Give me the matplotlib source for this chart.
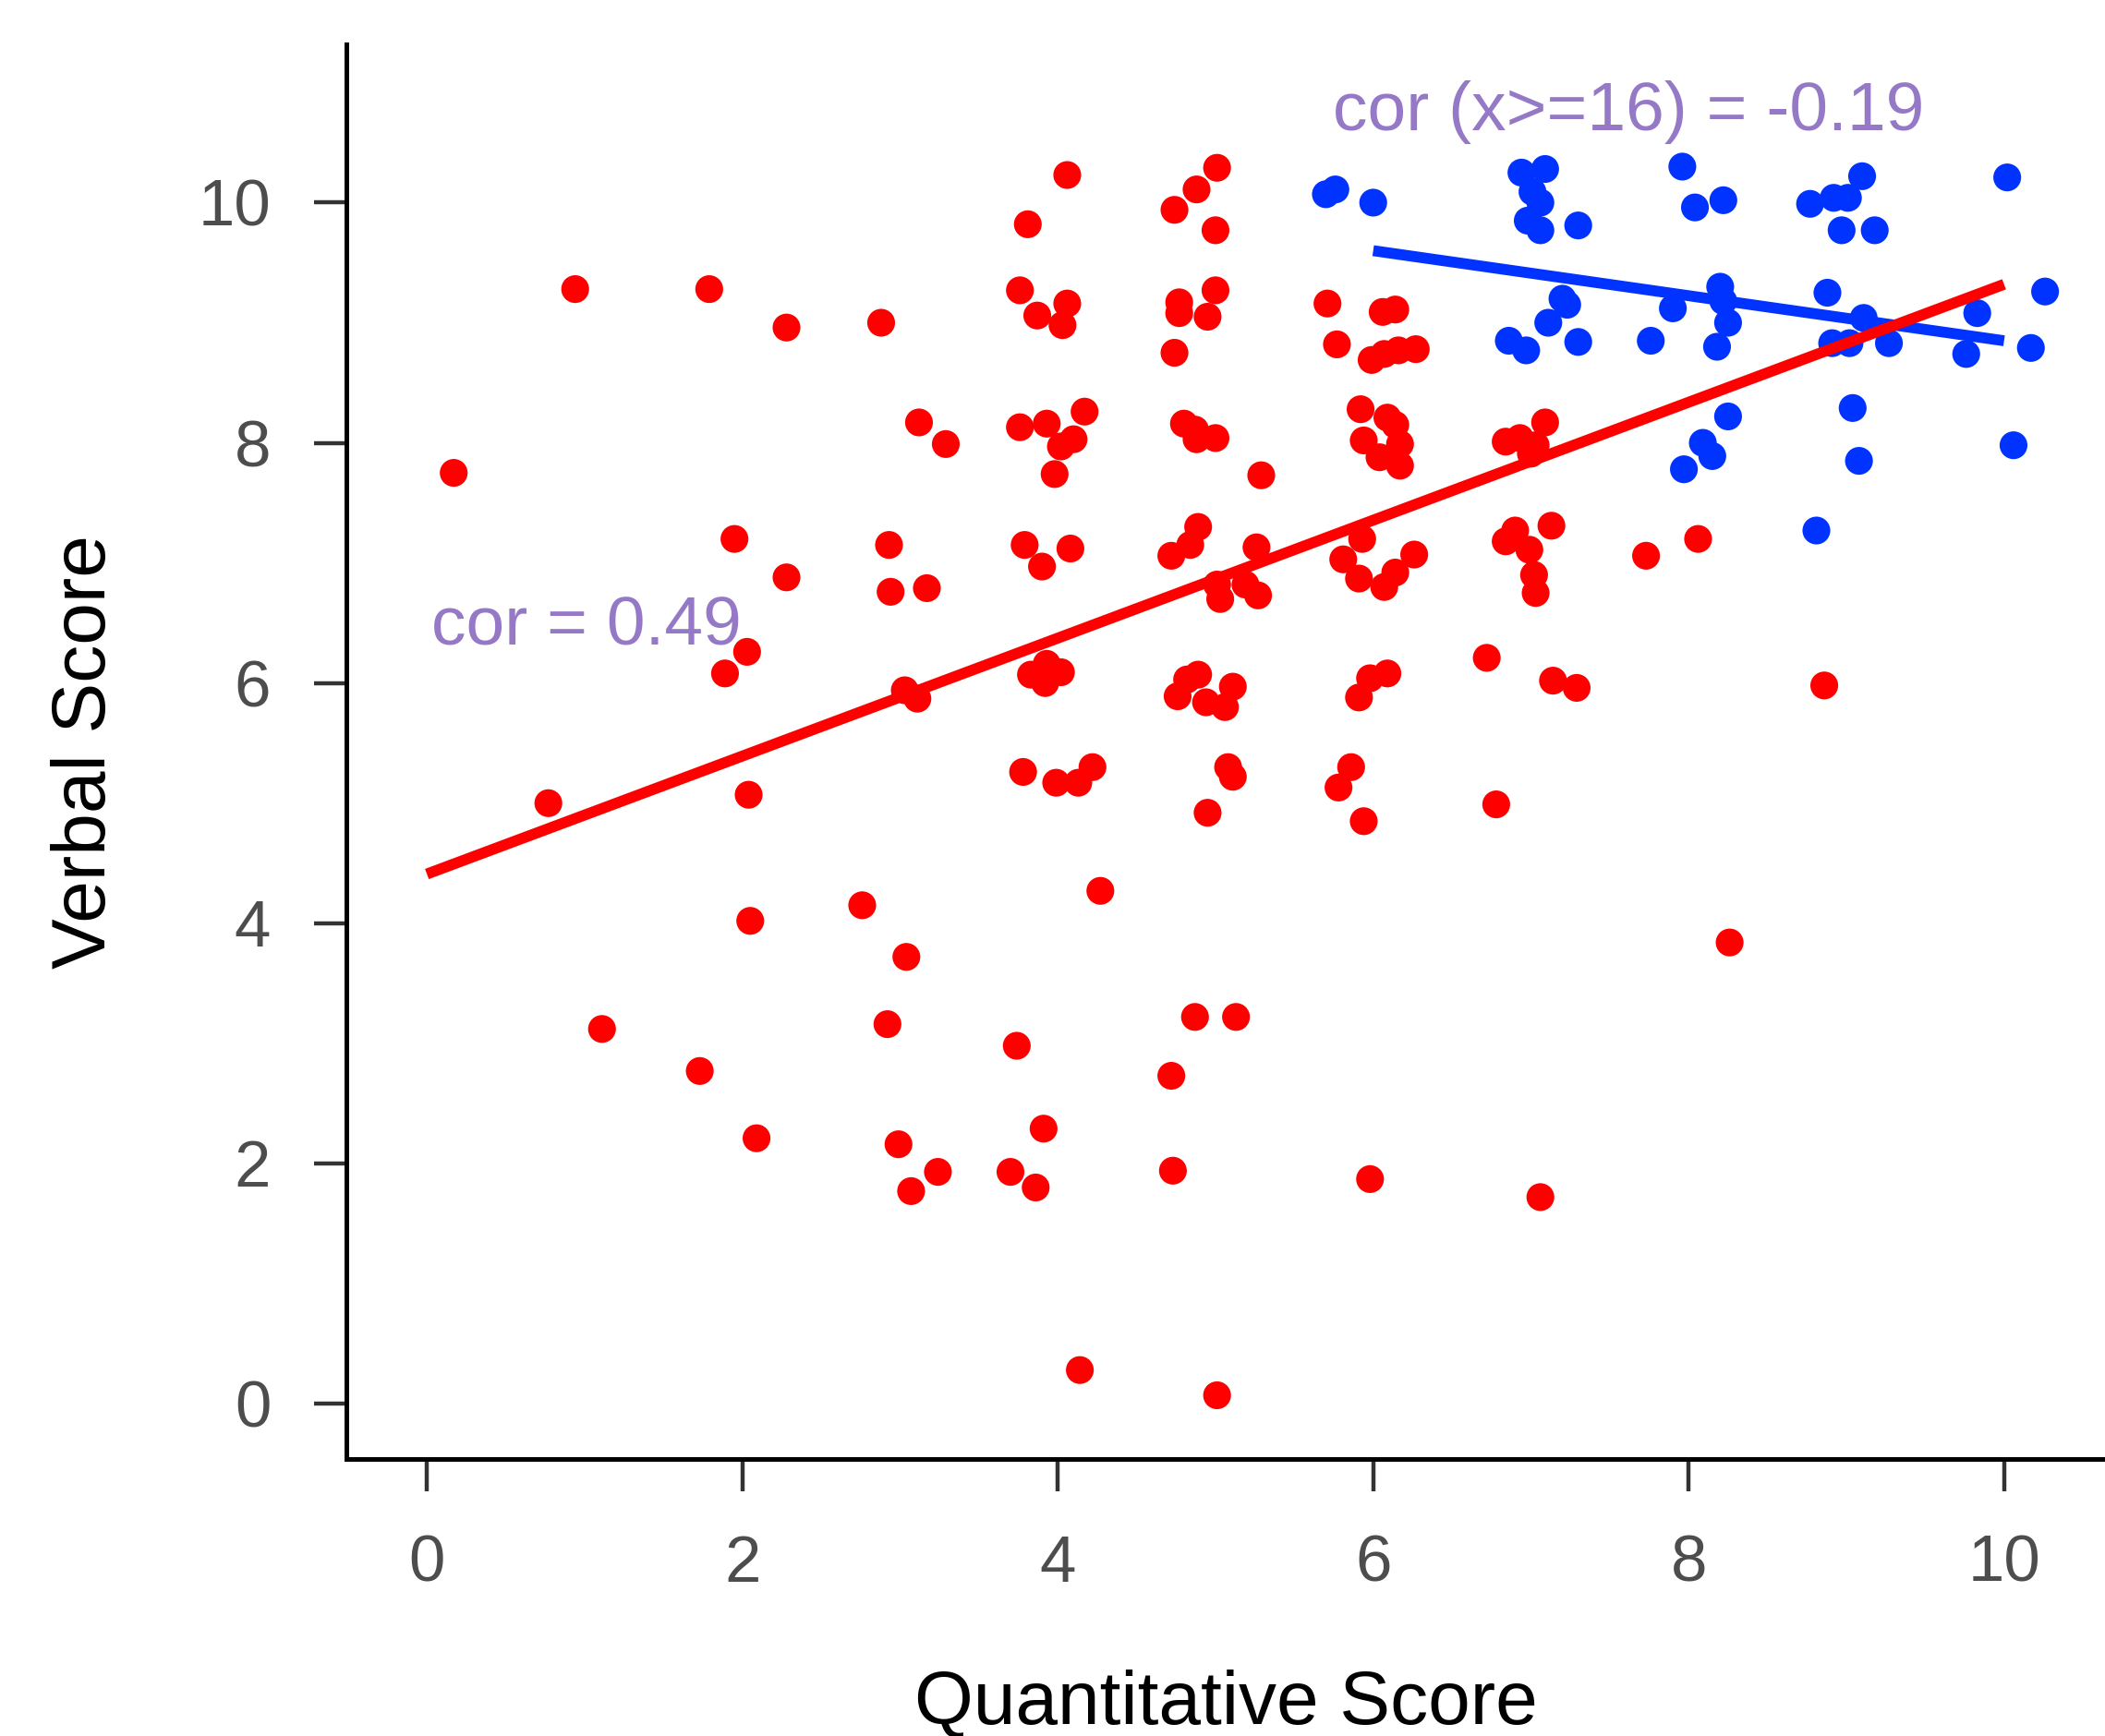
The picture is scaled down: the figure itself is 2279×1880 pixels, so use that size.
import numpy as np
import matplotlib.pyplot as plt

plt.rcParams['font.family'] = ['Liberation Sans', 'DejaVu Sans']

# red group (all students below the blue corner)
red_x = [0.17, 0.94, 0.77, 1.11, 1.73, 1.79, 1.95, 2.28, 2.28, 1.89, 2.03, 2.04, 2.05, 2.09,
         2.76, 2.88, 2.93, 2.94, 3.17, 3.12, 3.29, 3.03, 3.11, 3.04, 2.92, 2.99, 3.07, 3.24,
         3.81, 4.06, 3.76, 3.87, 4.03, 4.06, 3.76, 3.93, 4.17, 4.10, 4.02, 3.98, 3.79, 3.90,
         4.08, 3.83, 3.93, 3.92, 4.02, 3.78, 3.99, 4.13, 4.22, 4.27, 3.74, 3.91, 3.70, 3.86, 4.14,
         4.74, 4.88, 5.01, 5.00, 4.77, 4.77, 5.00, 4.95, 4.74, 4.80, 4.87, 4.88, 5.00, 5.29,
         4.72, 4.84, 4.89, 5.26, 5.01, 5.03, 5.19, 5.27, 4.76, 4.82, 4.89, 4.94, 5.06, 5.11,
         5.08, 5.11, 4.95, 4.87, 5.13, 4.72, 4.73, 5.01,
         5.71, 5.77, 6.06, 6.14, 5.99, 6.07, 6.16, 6.27, 5.92, 5.94, 6.09, 6.14, 6.17, 6.04,
         6.17, 5.81, 5.93, 5.91, 6.07, 6.14, 6.26, 5.91, 5.98, 6.09, 5.86, 5.78, 5.94, 5.98,
         6.84, 6.93, 7.03, 7.00, 7.09, 6.84, 6.90, 6.99, 7.13, 7.02, 7.03, 6.72, 7.14, 7.29,
         6.78, 7.06, 7.73, 8.06, 8.26, 8.86]
red_y = [7.75, 9.28, 5.00, 3.12, 2.77, 9.28, 7.20, 8.96, 6.88, 6.08, 6.26, 5.07, 4.02, 2.21,
         4.15, 9.00, 7.15, 6.76, 6.79, 8.17, 7.99, 5.94, 5.87, 3.72, 3.16, 2.16, 1.77, 1.93,
         9.82, 10.23, 9.27, 9.06, 8.98, 9.16, 8.13, 8.16, 8.26, 8.03, 7.97, 7.74, 7.15, 6.97,
         7.12, 6.07, 6.16, 6.00, 6.09, 5.26, 5.17, 5.17, 5.30, 4.27, 2.98, 2.29, 1.93, 1.80, 0.28,
         9.94, 10.11, 10.29, 9.77, 9.17, 9.08, 9.27, 9.05, 8.75, 8.16, 8.11, 8.03, 8.04, 7.73,
         7.06, 7.15, 7.30, 7.13, 6.82, 6.70, 6.82, 6.73, 5.89, 6.03, 6.07, 5.84, 5.80, 5.97,
         5.30, 5.22, 4.92, 3.22, 3.22, 2.73, 1.94, 0.07,
         9.16, 8.82, 9.09, 9.11, 8.69, 8.74, 8.77, 8.78, 8.28, 8.02, 8.21, 8.15, 7.99, 7.88,
         7.81, 7.03, 7.20, 6.87, 6.80, 6.92, 7.07, 5.88, 6.04, 6.08, 5.30, 5.13, 4.85, 1.87,
         8.01, 8.04, 7.98, 7.91, 8.17, 7.18, 7.27, 7.11, 7.31, 6.90, 6.75, 6.21, 6.02, 5.96,
         4.99, 1.72, 7.06, 7.20, 3.84, 5.98]

# blue group (high quantitative and high verbal)
blue_x = [5.70, 5.76, 6.00, 6.94, 7.09, 7.01, 7.06, 6.98, 7.06, 7.30, 7.96, 8.04, 8.22,
          8.77, 8.92, 9.01, 9.10, 8.97, 9.18, 10.02, 7.20, 7.23, 7.11, 6.86, 6.97, 7.30,
          7.76, 7.90, 8.20, 8.22, 8.25, 8.18, 8.88, 9.11, 8.91, 9.02, 9.27, 9.83, 9.76,
          10.26, 10.17, 8.25, 8.09, 8.15, 7.97, 9.04, 9.08, 10.06, 8.81]
blue_y = [10.07, 10.11, 10.00, 10.25, 10.28, 10.09, 10.00, 9.85, 9.77, 9.81, 10.30, 9.96, 10.02,
          9.99, 10.04, 10.04, 10.22, 9.77, 9.77, 10.21, 9.20, 9.15, 9.00, 8.85, 8.77, 8.84,
          8.85, 9.12, 9.30, 9.18, 9.00, 8.80, 9.25, 9.04, 8.83, 8.83, 8.83, 9.08, 8.74,
          9.26, 8.79, 8.22, 8.00, 7.89, 7.78, 8.29, 7.85, 7.98, 7.27]

# regression lines (ends of each fit)
fit_all_x = [0, 10]
fit_all_y = [4.41, 9.32]
fit_top_x = [6, 10]
fit_top_y = [9.60, 8.85]

fig = plt.figure(figsize=(22.79, 18.80), dpi=100)
ax = fig.add_axes([0.1646, 0.1596, 0.8354, 0.815])

ax.scatter(red_x, red_y, s=470, color='#ff0000', edgecolors='none', zorder=2)
ax.scatter(blue_x, blue_y, s=470, color='#0033ff', edgecolors='none', zorder=2)

ax.plot(fit_top_x, fit_top_y, color='#0033ff', lw=8.5, solid_capstyle='butt', zorder=3)
ax.plot(fit_all_x, fit_all_y, color='#ff0000', lw=8.5, solid_capstyle='butt', zorder=4)

txt_col = '#9579c6'
ax.text(1.01, 6.47, 'cor = 0.49', color=txt_col, fontsize=54, ha='center', va='center', zorder=5)
ax.text(7.62, 10.75, 'cor (x>=16) = -0.19', color=txt_col, fontsize=54, ha='center', va='center', zorder=5)

ax.set_xlim(-0.51, 10.64)
ax.set_ylim(-0.46, 11.32)
ax.set_xticks([0, 2, 4, 6, 8, 10])
ax.set_yticks([0, 2, 4, 6, 8, 10])

for side in ['top', 'right']:
    ax.spines[side].set_visible(False)
for side in ['left', 'bottom']:
    ax.spines[side].set_linewidth(3.6)
    ax.spines[side].set_color('black')
ax.tick_params(length=25, width=3.2, color='#333333', labelcolor='#4d4d4d',
               labelsize=51, pad=34)

ax.set_xlabel('Quantitative Score', fontsize=59, labelpad=58)
ax.set_ylabel('Verbal Score', fontsize=59, labelpad=60)

fig.savefig('out.png', dpi=100)
